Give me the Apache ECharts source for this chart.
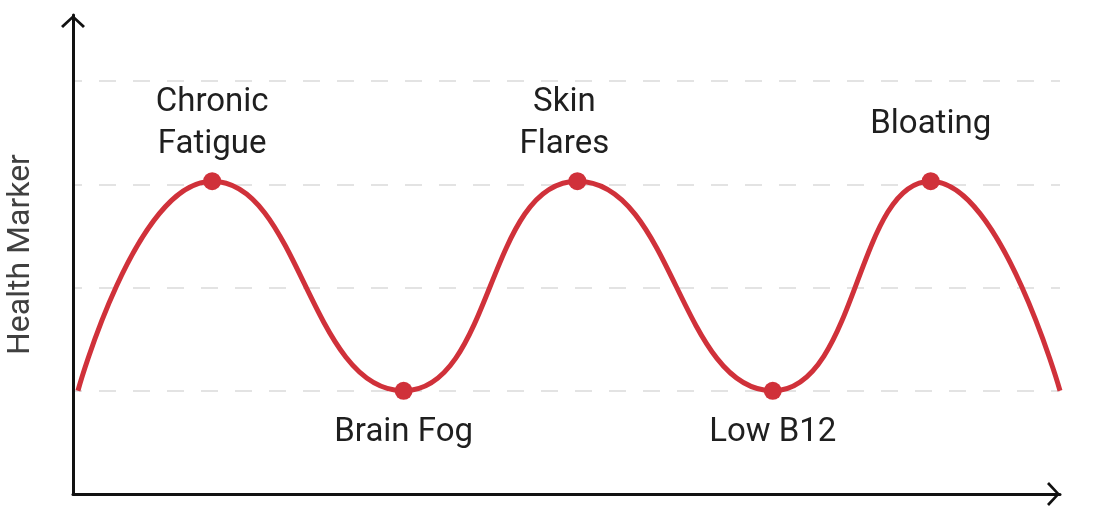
<!DOCTYPE html>
<html>
<head>
<meta charset="utf-8">
<title>Health Marker</title>
<script src="https://cdn.jsdelivr.net/npm/echarts@6/dist/echarts.min.js"></script>
<style>
  html, body { margin: 0; padding: 0; background: #fff; }
  #main { width: 1100px; height: 512px; }
</style>
</head>
<body>
<div id="main"></div>
<script>
// 曲线上的点 (x 轴 0-100，y 轴按网格线 1 格 = 1)
const xValues = [0.5, 14.1, 33.5, 51.1, 70.9, 86.9, 100];
const markerValues = [1.0, 3.03, 1.0, 3.03, 1.0, 3.03, 1.0];
const pointLabels = ['', 'Chronic\nFatigue', 'Brain Fog', 'Skin\nFlares', 'Low B12', 'Bloating', ''];
const labelSides = ['', 'top', 'bottom', 'top', 'bottom', 'top', ''];
const yAxisName = 'Health Marker';

const red = '#d0313a';
// 开口箭头 (朝上，ECharts 会自动旋转)
const chevron = 'path://M0,11 L12,0 L24,11 L22,13 L12,3.4 L2,13 Z';

let chart = null;
function initChart() {
  chart = echarts.init(document.getElementById('main'), null, { renderer: 'canvas' });
  return chart;
}

function buildData() {
  return xValues.map(function (x, i) {
    const item = { value: [x, markerValues[i]] };
    if (!pointLabels[i]) {
      item.symbol = 'none';
      return item;
    }
    item.label = {
      show: true,
      formatter: pointLabels[i],
      position: labelSides[i],
      distance: labelSides[i] === 'top' ? 6 : 12
    };
    // 单行的 Bloating 与两行标签居中对齐
    if (pointLabels[i] === 'Bloating') item.label.distance = 26;
    if (pointLabels[i] === 'Skin\nFlares') item.label.offset = [-13, 0];
    return item;
  });
}

function loadData() {
  var axisLine = {
    show: true,
    symbol: ['none', chevron],
    symbolSize: [24, 13],
    symbolOffset: [0, -6.5],
    lineStyle: { color: '#111', width: 3 }
  };
  var option = {
    backgroundColor: '#fff',
    animation: false,
    grid: { left: 73, right: 40, top: 15, bottom: 18, outerBoundsMode: 'none' },
    xAxis: {
      type: 'value',
      min: 0,
      max: 100,
      axisLine: axisLine,
      axisTick: { show: false },
      axisLabel: { show: false },
      splitLine: { show: false }
    },
    yAxis: {
      type: 'value',
      min: 0,
      max: 4.64,
      interval: 1,
      name: yAxisName,
      nameLocation: 'middle',
      nameGap: 36,
      nameTextStyle: { fontFamily: 'Roboto', fontSize: 32, color: '#404040' },
      axisLine: axisLine,
      axisTick: { show: false },
      axisLabel: { show: false },
      splitLine: {
        show: true,
        showMinLine: false,
        showMaxLine: false,
        lineStyle: { color: '#e3e3e3', width: 2, type: [17, 17], dashOffset: 8 }
      }
    },
    series: [{
      type: 'line',
      data: buildData(),
      smooth: 0.5,
      clip: false,
      symbol: 'circle',
      symbolSize: 18,
      itemStyle: { color: red },
      lineStyle: { color: red, width: 5 },
      label: {
        fontFamily: 'Roboto',
        fontSize: 33,
        lineHeight: 42,
        color: '#1f1f1f'
      }
    }]
  };
  chart.setOption(option);
}

initChart();
loadData();
</script>
</body>
</html>
